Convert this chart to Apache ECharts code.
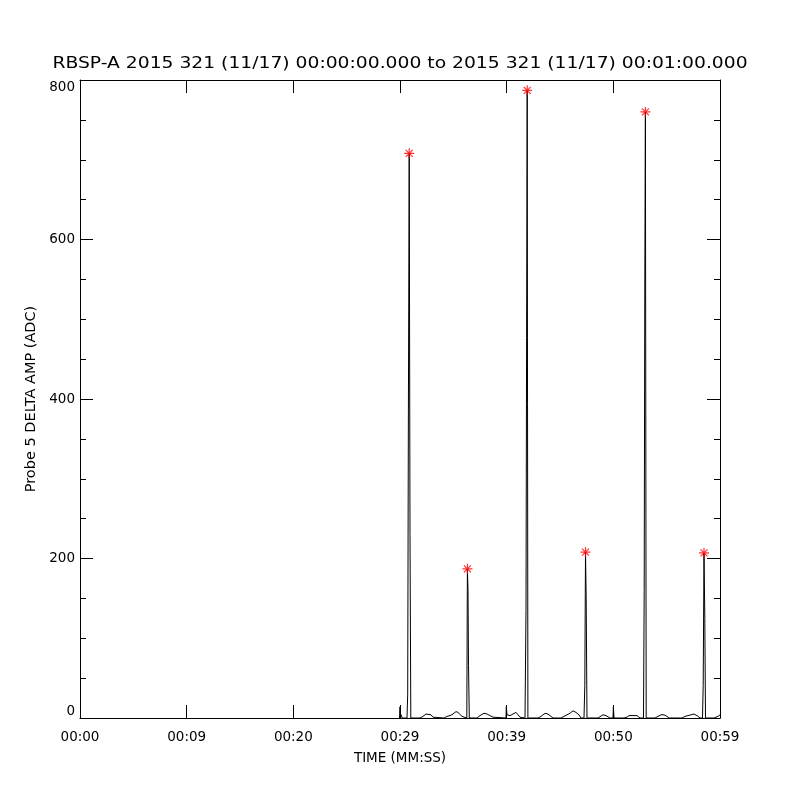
<!DOCTYPE html>
<html>
<head>
<meta charset="utf-8">
<script src="https://cdn.jsdelivr.net/npm/echarts@6/dist/echarts.min.js"></script>
<style>
html,body{margin:0;padding:0;background:#fff;}
#chart{width:800px;height:800px;}
</style>
</head>
<body>
<div id="chart"></div>
<script>
// time in seconds since 00:00:00, amplitude in ADC
const times = [
  29.953, 30.0, 30.028, 30.188, 30.216, 30.656, 30.722, 30.788, 30.863, 30.938, 31.013,
  31.875, 32.156, 32.438, 32.625, 32.906, 33.094, 33.281,
  34.125, 34.406, 34.688, 34.969, 35.25, 35.438, 35.625, 35.813, 35.953,
  36.263, 36.319, 36.375, 36.422, 36.497,
  37.219, 37.5, 37.875, 38.156, 38.438, 38.719, 38.906,
  39.938, 39.966, 40.031, 40.313, 40.594, 40.875, 41.063, 41.25, 41.344,
  41.719, 41.813, 41.869, 41.925, 41.991,
  42.938, 43.219, 43.5, 43.688, 43.969, 44.156, 44.344,
  45.094, 45.375, 45.656, 45.938, 46.219, 46.5, 46.781, 46.969,
  47.25, 47.325, 47.391, 47.456, 47.531,
  48.563, 48.75, 49.031, 49.313, 49.5, 49.688,
  49.969, 50.006, 50.063,
  51.0, 51.281, 51.469, 52.219, 52.406, 52.5,
  52.828, 52.894, 52.95, 53.006, 53.081,
  53.906, 54.188, 54.469, 54.75, 55.031, 55.219,
  56.438, 56.719, 57.0, 57.281, 57.563, 57.844, 58.125,
  58.359, 58.425, 58.5, 58.575, 58.641,
  59.438, 59.813, 60.0
];
const values = [
  0, 14, 6, 6, 0, 0, 29, 385, 708, 230, 0,
  0, 2, 5, 6, 4, 1, 0,
  0, 2, 3, 5, 8, 7, 5, 2, 0,
  0, 187, 160, 66, 0,
  0, 3, 6, 5, 3, 1, 0,
  0, 14, 4, 3, 5, 7, 4, 1, 0,
  0, 135, 477, 787, 0,
  0, 2, 5, 6, 4, 2, 0,
  0, 2, 4, 6, 9, 7, 4, 0,
  0, 41, 208, 148, 0,
  0, 2, 4, 3, 1, 0,
  0, 14, 0,
  0, 1, 3, 3, 1, 0,
  0, 160, 543, 760, 0,
  0, 2, 4, 4, 2, 0,
  0, 2, 3, 4, 5, 3, 0,
  0, 41, 207, 125, 0,
  0, 2, 4
];
const peakTimes = [30.863, 36.319, 41.925, 47.391, 53.006, 58.5];
const peakValues = [708, 187, 787, 208, 760, 207];
const xLabels = ['00:00', '00:09', '00:20', '00:29', '00:39', '00:50', '00:59'];
const titleText = 'RBSP-A 2015 321 (11/17) 00:00:00.000 to 2015 321 (11/17) 00:01:00.000';

const FONT = 'DejaVu Sans';
const lineData = times.map((t, i) => [t, values[i]]);
const peakData = peakTimes.map((t, i) => [t, peakValues[i]]);

const star = 'path://M-5,-0.6L5,-0.6L5,0.6L-5,0.6Z' +
  'M-0.6,-5L0.6,-5L0.6,5L-0.6,5Z' +
  'M-3.08,-3.92L3.92,3.08L3.08,3.92L-3.92,-3.08Z' +
  'M-3.92,3.08L3.08,-3.92L3.92,-3.08L-3.08,3.92Z';

const chart = echarts.init(document.getElementById('chart'), null, {renderer: 'canvas'});
const axisLineStyle = {show: true, onZero: false, lineStyle: {color: '#000', width: 1}};
chart.setOption({
  animation: false,
  backgroundColor: '#fff',
  graphic: [{
    type: 'text',
    x: 400, y: 64,
    scaleX: 1.17, scaleY: 1,
    silent: true,
    style: {
      text: titleText, fontFamily: FONT, fontSize: 16, fill: '#000',
      textAlign: 'center', textVerticalAlign: 'middle'
    }
  }],
  grid: {left: 80, right: 80, top: 80, bottom: 82, containLabel: false},
  xAxis: [{
    type: 'value', min: 0, max: 60, interval: 10, position: 'bottom',
    name: 'TIME (MM:SS)', nameLocation: 'middle', nameGap: 33,
    nameTextStyle: {fontFamily: FONT, fontSize: 13.5, color: '#000'},
    axisLine: axisLineStyle,
    axisTick: {show: true, inside: true, length: 13, lineStyle: {color: '#000'}},
    axisLabel: {
      show: true, margin: 12, fontFamily: FONT, fontSize: 13.5, color: '#000',
      formatter: v => xLabels[Math.round(v / 10)]
    },
    splitLine: {show: false}
  }, {
    type: 'value', min: 0, max: 60, interval: 10, position: 'top',
    axisLine: axisLineStyle,
    axisTick: {show: true, inside: true, length: 13, lineStyle: {color: '#000'}},
    axisLabel: {show: false},
    splitLine: {show: false}
  }],
  yAxis: [{
    type: 'value', min: 0, max: 800, interval: 200, position: 'left',
    name: 'Probe 5 DELTA AMP (ADC)', nameLocation: 'middle', nameGap: 38,
    nameTextStyle: {fontFamily: FONT, fontSize: 14.5, color: '#000'},
    axisLine: axisLineStyle,
    axisTick: {show: true, inside: true, length: 13, lineStyle: {color: '#000'}},
    minorTick: {show: true, splitNumber: 4, length: 6, lineStyle: {color: '#000'}},
    axisLabel: {
      show: true, margin: 5, fontFamily: FONT, fontSize: 13.5, color: '#000',
      verticalAlignMaxLabel: 'top', verticalAlignMinLabel: 'bottom'
    },
    splitLine: {show: false},
    minorSplitLine: {show: false}
  }, {
    type: 'value', min: 0, max: 800, interval: 200, position: 'right',
    axisLine: axisLineStyle,
    axisTick: {show: true, inside: true, length: 13, lineStyle: {color: '#000'}},
    minorTick: {show: true, splitNumber: 4, length: 6, lineStyle: {color: '#000'}},
    axisLabel: {show: false},
    splitLine: {show: false},
    minorSplitLine: {show: false}
  }],
  series: [{
    type: 'line',
    data: lineData,
    xAxisIndex: 0, yAxisIndex: 0,
    showSymbol: false,
    symbol: 'none',
    lineStyle: {color: '#000', width: 1},
    clip: true,
    z: 2
  }, {
    type: 'scatter',
    data: peakData,
    xAxisIndex: 0, yAxisIndex: 0,
    symbol: star,
    symbolSize: 10,
    itemStyle: {color: '#ff0000'},
    z: 3
  }]
});
</script>
</body>
</html>
